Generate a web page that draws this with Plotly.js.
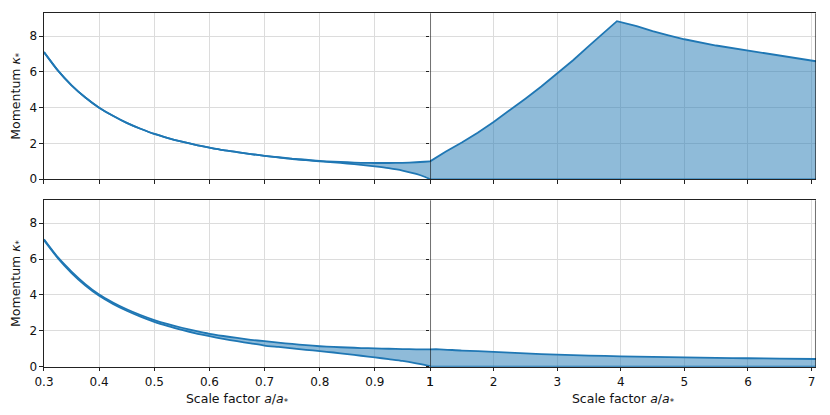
<!DOCTYPE html>
<html>
<head>
<meta charset="utf-8">
<script src="https://cdn.plot.ly/plotly-3.0.1.min.js"></script>
<style>body{margin:0;background:#fff}#plot{width:830px;height:415px}</style>
</head>
<body>
<div id="plot"></div>
<script>
// left panels: a/a* from 0.3 to 1
const a_left = [0.3, 0.325, 0.35, 0.375, 0.4, 0.425, 0.45, 0.475, 0.5, 0.525, 0.55, 0.575, 0.6, 0.625, 0.65, 0.675,
                0.7, 0.725, 0.75, 0.775, 0.8, 0.825, 0.85, 0.875, 0.9, 0.925, 0.95, 0.975, 0.99, 1.0];
const top_left_hi = [7.1, 6.08, 5.25, 4.57, 4.0, 3.55, 3.15, 2.82, 2.53, 2.3, 2.1, 1.92, 1.77, 1.63, 1.52, 1.41,
                     1.31, 1.23, 1.15, 1.09, 1.03, 0.98, 0.95, 0.92, 0.91, 0.91, 0.92, 0.95, 0.98, 1.0];
const top_left_lo = [7.1, 6.08, 5.25, 4.57, 4.0, 3.55, 3.15, 2.82, 2.53, 2.3, 2.1, 1.92, 1.77, 1.63, 1.52, 1.41,
                     1.31, 1.22, 1.13, 1.07, 1.0, 0.95, 0.88, 0.81, 0.72, 0.62, 0.49, 0.3, 0.14, 0.0];
const bot_left_hi = [7.1, 6.1, 5.3, 4.6, 4.02, 3.58, 3.2, 2.88, 2.6, 2.37, 2.17, 1.99, 1.83, 1.71, 1.6, 1.5,
                     1.42, 1.34, 1.27, 1.2, 1.14, 1.1, 1.07, 1.04, 1.02, 1.0, 0.98, 0.97, 0.965, 0.96];
const bot_left_lo = [7.05, 6.05, 5.22, 4.52, 3.95, 3.5, 3.12, 2.79, 2.5, 2.26, 2.05, 1.86, 1.7, 1.55, 1.42, 1.3,
                     1.18, 1.1, 1.02, 0.94, 0.87, 0.79, 0.7, 0.61, 0.52, 0.42, 0.32, 0.19, 0.1, 0.03];

// right panels: a/a* from 1 to 7.07
const a_right_top = [1.0, 1.1, 1.25, 1.5, 1.75, 2.0, 2.25, 2.5, 2.75, 3.0, 3.25, 3.5, 3.75, 3.94,
                     4.25, 4.5, 4.75, 5.0, 5.5, 6.0, 6.5, 7.07];
const top_right_hi = [1.0, 1.22, 1.55, 2.05, 2.6, 3.2, 3.83, 4.5, 5.18, 5.9, 6.65, 7.45, 8.25, 8.83,
                      8.55, 8.27, 8.04, 7.82, 7.47, 7.18, 6.88, 6.59];
const top_right_lo = a_right_top.map(() => 0);
const a_right_bot = [1.0, 1.15, 1.5, 2.0, 2.5, 3.0, 3.5, 4.0, 4.5, 5.0, 5.5, 6.0, 6.5, 7.07];
const bot_right_hi = [0.97, 0.97, 0.9, 0.83, 0.74, 0.67, 0.62, 0.58, 0.55, 0.52, 0.49, 0.47, 0.45, 0.43];
const bot_right_lo = a_right_bot.map(() => 0);

const left_ticks = [0.3, 0.4, 0.5, 0.6, 0.7, 0.8, 0.9];
const right_ticks = [1, 2, 3, 4, 5, 6, 7];
const y_ticks = [0, 2, 4, 6, 8];

const blue = '#1f77b4';
const fillc = 'rgba(31,119,180,0.5)';

function band(x, lo, hi, xa, ya, shape) {
    const ln = { color: blue, width: 1.8, shape: shape, smoothing: 0.6 };
    return [
        { type: 'scatter', x: x, y: lo, xaxis: xa, yaxis: ya, mode: 'lines',
          line: ln, showlegend: false, hoverinfo: 'skip' },
        { type: 'scatter', x: x, y: hi, xaxis: xa, yaxis: ya, mode: 'lines', fill: 'tonexty',
          fillcolor: fillc, line: ln, showlegend: false, hoverinfo: 'skip' }
    ];
}

let traces = [].concat(
    band(a_left, top_left_lo, top_left_hi, 'x', 'y', 'spline'),
    band(a_right_top, top_right_lo, top_right_hi, 'x2', 'y2', 'linear'),
    band(a_left, bot_left_lo, bot_left_hi, 'x3', 'y3', 'spline'),
    band(a_right_bot, bot_right_lo, bot_right_hi, 'x4', 'y4', 'spline')
);

const font = { family: 'DejaVu Sans', size: 12, color: '#111' };
const xtitle = { text: 'Scale factor <i>a</i>/<i>a</i><sub>*</sub>', font: { family: 'DejaVu Sans', size: 12.5, color: '#111' }, standoff: 6 };
const ytitle = { text: 'Momentum <i>κ</i><sub>*</sub>', font: { family: 'DejaVu Sans', size: 12.5, color: '#111' }, standoff: 6 };

const xl = [0.053, 0.5181], xr = [0.5181, 0.9831];
const yt = [0.568, 0.968], yb = [0.1164, 0.5173];

function xax(dom, range, ticks, anchor, labels, title) {
    const ax = {
        domain: dom, range: range, anchor: anchor, tickmode: 'array', tickvals: ticks,
        showticklabels: labels, ticks: 'outside', ticklen: 3.5, tickwidth: 1, tickcolor: '#222',
        showgrid: true, gridcolor: '#dcdcdc', gridwidth: 1, zeroline: false,
        showline: true, linecolor: '#222', linewidth: 1, mirror: true,
        tickfont: font, automargin: false
    };
    if (title) ax.title = title;
    return ax;
}
function yax(dom, anchor, labels, title) {
    const ax = {
        domain: dom, range: [0, 9.27], anchor: anchor, tickmode: 'array', tickvals: y_ticks,
        showticklabels: labels, ticks: 'outside', ticklen: 3.5, tickwidth: 1, tickcolor: '#222',
        showgrid: true, gridcolor: '#dcdcdc', gridwidth: 1, zeroline: false,
        showline: labels, linecolor: '#222', linewidth: 1,
        tickfont: font, automargin: false
    };
    if (title) ax.title = title;
    return ax;
}

const shapes = [];
[['x2', 'y2'], ['x4', 'y4']].forEach(([xa, ya]) => {
    [1, 7.07].forEach(v => shapes.push({
        type: 'line', xref: xa, yref: ya + ' domain', x0: v, x1: v, y0: 0, y1: 1,
        line: { color: 'rgba(0,0,0,0.55)', width: 2 }
    }));
});

Plotly.newPlot('plot', traces, {
    width: 830, height: 415,
    margin: { l: 0, r: 0, t: 0, b: 0 },
    paper_bgcolor: 'white', plot_bgcolor: 'white',
    xaxis: xax(xl, [0.3, 1], left_ticks, 'y', false),
    xaxis2: xax(xr, [1, 7.07], right_ticks, 'y2', false),
    xaxis3: xax(xl, [0.3, 1], left_ticks.concat([1]), 'y3', true, xtitle),
    xaxis4: xax(xr, [1, 7.07], right_ticks, 'y4', true, xtitle),
    yaxis: yax(yt, 'x', true, ytitle),
    yaxis2: yax(yt, 'x2', false),
    yaxis3: yax(yb, 'x3', true, ytitle),
    yaxis4: yax(yb, 'x4', false),
    shapes: shapes
}, { displayModeBar: false, staticPlot: true });
</script>
</body>
</html>
